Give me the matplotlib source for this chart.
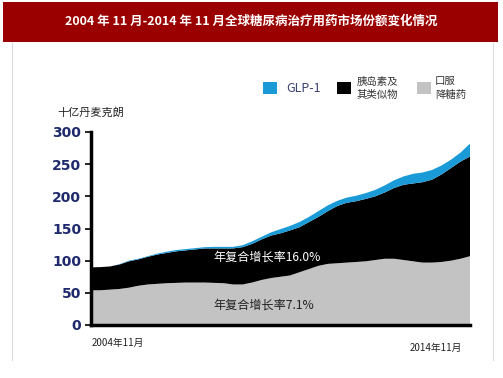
import matplotlib
matplotlib.use("Agg")
import matplotlib.pyplot as plt
from matplotlib.patches import Rectangle
from matplotlib.lines import Line2D

plt.rcParams['font.family'] = ['Noto Sans CJK SC', 'DejaVu Sans']

# quarterly steps from 2004-11 to 2014-11
t = list(range(41))
oral = [54, 54, 55, 56, 58, 61, 63, 64, 65, 65.5, 66, 66, 66, 65.5, 65, 63, 63, 66, 70, 73,
        75, 77, 82, 87, 92, 95, 96, 97, 98, 99, 101, 103, 103, 101, 99, 97, 97, 98, 100, 103, 107]
total_ins = [89.6, 90, 91, 94, 99, 102, 106, 109.5, 112, 114.5, 116, 117.5, 119, 119, 119, 119,
             121, 126, 133, 139, 142.5, 147, 152, 160, 168, 177, 185, 190, 192.5, 196, 200, 206,
             213, 218, 220, 222, 226, 234, 244, 254, 262]
total_all = [89.6, 90, 91, 94.5, 100, 103, 107, 111, 114, 116.5, 118, 119.5, 121, 121.5, 121.5,
             121.5, 124, 130, 137, 144, 149, 154, 160, 168, 177, 186, 193, 198, 201, 205, 210,
             217, 225, 231, 235, 237, 241, 248, 257, 268, 282]
insulin = [a - b for a, b in zip(total_ins, oral)]
glp1 = [a - b for a, b in zip(total_all, total_ins)]

title = "2004 年 11 月-2014 年 11 月全球糖尿病治疗用药市场份额变化情况"
legend_labels = ["GLP-1", "胰岛素及\n其类似物", "口服\n降糖药"]
colors = ["#1a9bd7", "#000000", "#c3c3c3"]
yticks = [0, 50, 100, 150, 200, 250, 300]
xlabels = ["2004年11月", "2014年11月"]
ylabel = "十亿丹麦克朗"
cagr = ["年复合增长率16.0%", "年复合增长率7.1%"]

W, H = 503, 378
fig = plt.figure(figsize=(W / 100, H / 100), dpi=100)

def fx(px):
    return px / W

def fy(py):
    return 1 - py / H

# title bar
fig.patches.append(Rectangle((fx(3), fy(42)), fx(495), 40 / H, transform=fig.transFigure,
                             facecolor="#9b0000", edgecolor="none", zorder=0))
fig.text(fx(251), fy(21), title, color="white", fontsize=9, fontweight="bold",
         ha="center", va="center")
# panel borders
for xx in (12, 493):
    fig.lines.append(Line2D([fx(xx), fx(xx)], [fy(42), fy(360)], transform=fig.transFigure,
                            color="#dddddd", lw=0.8))

ax = fig.add_axes([fx(91), fy(325), fx(470 - 91), (325 - 132) / H])
ax.stackplot(t, oral, insulin, glp1, colors=[colors[2], colors[1], colors[0]], lw=0)
ax.set_xlim(t[0], t[-1])
ax.set_ylim(0, 300)
ax.set_yticks(yticks)
ax.set_yticklabels([str(v) for v in yticks], color="#1f2a6e", fontweight="bold", fontsize=10,
                   family="DejaVu Sans")
ax.tick_params(axis="y", length=4, width=1.2, color="black", pad=3)
ax.set_xticks([])
for s in ("top", "right"):
    ax.spines[s].set_visible(False)
ax.spines["left"].set_linewidth(2.5)
ax.spines["bottom"].set_linewidth(2.5)

ax.text(18.6, 105, cagr[0], color="white", fontsize=8.7, ha="center", va="center")
ax.text(18.2, 31, cagr[1], color="#222222", fontsize=8.7, ha="center", va="center")

fig.text(fx(92), fy(343), xlabels[0], fontsize=7, ha="left", va="center", color="#222222")
fig.text(fx(462), fy(348), xlabels[1], fontsize=7, ha="right", va="center", color="#222222")
fig.text(fx(57), fy(113), ylabel, fontsize=8, ha="left", va="center", color="#222222")

# legend
sq = 14
items = [(263, legend_labels[0], colors[0], 286), (337, legend_labels[1], colors[1], 357),
         (417, legend_labels[2], colors[2], 435)]
for x0, lab, c, tx in items:
    fig.patches.append(Rectangle((fx(x0), fy(94)), sq / W, 12 / H, transform=fig.transFigure,
                                 facecolor=c, edgecolor="none"))
    if lab == "GLP-1":
        fig.text(fx(tx), fy(88), lab, fontsize=9, color="#3a4270", ha="left", va="center")
    else:
        fig.text(fx(tx), fy(88), lab, fontsize=7.5, color="#333333", ha="left", va="center",
                 linespacing=1.4)

fig.savefig("out.png", dpi=100)
